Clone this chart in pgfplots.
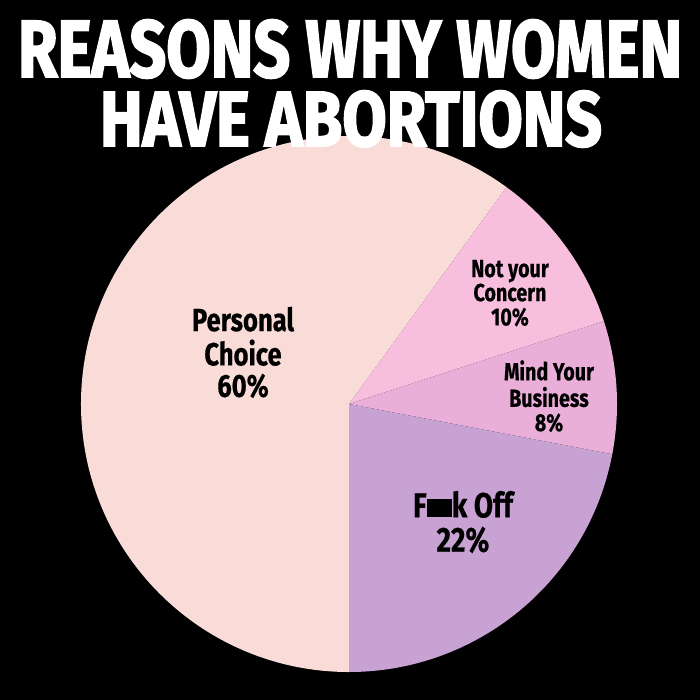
\documentclass[border=0pt]{standalone}
\usepackage{fontspec}
\setmainfont{Fira Sans}[BoldFeatures={FakeBold=0.6}]
\newfontfamily\titlefont[BoldFeatures={FakeBold=2.5}]{Fira Sans}
\usepackage{graphicx}
\usepackage{pgfplots}
\pgfplotsset{compat=1.18}

\definecolor{pchoice}{HTML}{F9DCD7}
\definecolor{pconcern}{HTML}{F7BEDD}
\definecolor{pbusiness}{HTML}{E9AFD9}
\definecolor{poff}{HTML}{C8A2D2}

% shares in percent, clockwise from the bottom
\def\sharePersonal{60}
\def\shareConcern{10}
\def\shareBusiness{8}
\def\shareOff{22}

\pgfmathsetmacro\aA{270}
\pgfmathsetmacro\aB{\aA-3.6*\sharePersonal}
\pgfmathsetmacro\aC{\aB-3.6*\shareConcern}
\pgfmathsetmacro\aD{\aC-3.6*\shareBusiness}
\pgfmathsetmacro\aE{\aD-3.6*\shareOff}
\def\R{8.04cm}

\newcommand\lab[3]{\scalebox{0.8}[1]{\fontsize{#1}{#2}\selectfont\bfseries
  \begin{tabular}{@{}c@{}}#3\end{tabular}}}

\begin{document}
\begin{tikzpicture}
\begin{axis}[
  hide axis, x=0.03cm, y=0.03cm,
  xmin=0, xmax=700, ymin=0, ymax=700,
]
\fill[black] (axis cs:0,0) rectangle (axis cs:700,700);
% wedges
\fill[pchoice] (axis cs:349,296) -- ++(\aA:\R) arc[start angle=\aA, end angle=\aB, radius=\R] -- cycle;
\fill[pconcern] (axis cs:349,296) -- ++(\aB:\R) arc[start angle=\aB, end angle=\aC, radius=\R] -- cycle;
\fill[pbusiness] (axis cs:349,296) -- ++(\aC:\R) arc[start angle=\aC, end angle=\aD, radius=\R] -- cycle;
\fill[poff] (axis cs:349,296) -- ++(\aD:\R) arc[start angle=\aD, end angle=\aE, radius=\R] -- cycle;
% title
\node[text=white, inner sep=0] at (axis cs:350,651)
  {\resizebox{19.92cm}{1.72cm}{\titlefont\bfseries REASONS WHY WOMEN}};
\node[text=white, inner sep=0] at (axis cs:351,581)
  {\resizebox{15.06cm}{1.66cm}{\titlefont\bfseries HAVE ABORTIONS}};
% labels
\node[inner sep=0] at (axis cs:243,344)
  {\lab{27.3pt}{23.9pt}{Personal\\Choice\\\sharePersonal\%}};
\node[inner sep=0] at (axis cs:510,404)
  {\lab{21pt}{18.8pt}{Not your\\Concern\\\shareConcern\%}};
\node[inner sep=0] at (axis cs:549,301)
  {\lab{21pt}{18.8pt}{Mind Your\\Business\\\shareBusiness\%}};
\node[inner sep=0] at (axis cs:463,174)
  {\lab{29.7pt}{26.5pt}{F\rule{0.95cm}{0.56cm}k Off\\\shareOff\%}};
\end{axis}
\end{tikzpicture}
\end{document}
